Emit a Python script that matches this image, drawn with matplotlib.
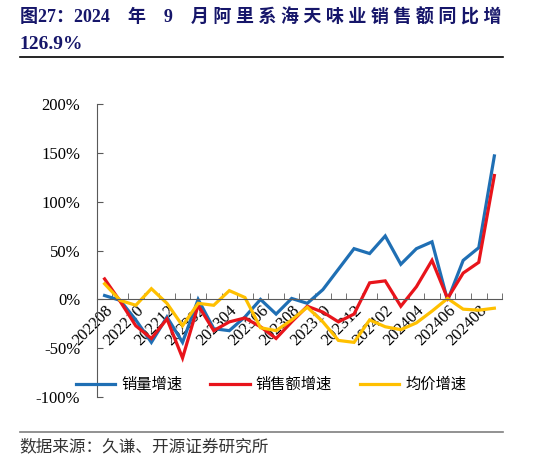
import numpy as np
import matplotlib
matplotlib.use("Agg")
import matplotlib.pyplot as plt
from matplotlib.ticker import FixedLocator, PercentFormatter

plt.rcParams["font.family"] = ["Liberation Serif", "Noto Sans CJK SC"]
plt.rcParams["axes.unicode_minus"] = False

MONTHS = [
    "202208", "202209", "202210", "202211", "202212", "202301", "202302",
    "202303", "202304", "202305", "202306", "202307", "202308", "202309",
    "202310", "202311", "202312", "202401", "202402", "202403", "202404",
    "202405", "202406", "202407", "202408", "202409",
]
VOLUME = [4, -1, -21, -44, -18, -44, 0, -30, -32, -18, 0, -15, 1, -4,
          10, 31, 52, 47, 65, 36, 52, 59, -1, 40, 53, 147]
SALES = [21, -2, -27, -40, -20, -60, -6, -32, -23, -19, -28, -40, -23, -7,
         -13, -23, -15, 17, 19, -7, 13, 40, 1, 27, 38, 126.9]
PRICE = [16, -1, -6, 11, -4, -27, -4, -6, 9, 2, -29, -32, -21, -8,
         -23, -42, -44, -21, -28, -31, -24, -12, 1, -10, -11, -9]
SERIES_NAMES = ["销量增速", "销售额增速", "均价增速"]
COLORS = ["#1F6FB4", "#E8141B", "#FFC000"]
YTICKS = [-100, -50, 0, 50, 100, 150, 200]

TITLE_1 = "图27：2024    年    9    月 阿 里 系 海 天 味 业 销 售 额 同 比 增"
TITLE_2 = "126.9%"
SOURCE = "数据来源：久谦、开源证券研究所"

fig = plt.figure(figsize=(5.5, 4.59), dpi=100)
ax = fig.add_axes([0.176, 0.135, 0.737, 0.638])

x = np.arange(len(MONTHS))
for vals, name, c in zip([VOLUME, SALES, PRICE], SERIES_NAMES, COLORS):
    ax.plot(x, vals, color=c, lw=2.3, label=name, solid_joinstyle="miter")

ax.set_xlim(-0.5, len(MONTHS) - 0.5)
ax.set_ylim(-100, 200)
ax.set_yticks(YTICKS)
ax.yaxis.set_major_formatter(PercentFormatter(decimals=0))
for lab in ax.get_yticklabels():
    lab.set_fontsize(12)

ax.spines["top"].set_visible(False)
ax.spines["right"].set_visible(False)
ax.spines["bottom"].set_position(("data", 0))
ax.spines["bottom"].set_color("#595959")
ax.spines["left"].set_color("#595959")

ax.set_xticks(x[::2])
ax.set_xticklabels(MONTHS[::2], rotation=45, ha="right", va="top",
                   rotation_mode="anchor", fontsize=12)
ax.tick_params(axis="x", which="major", length=0, pad=2)
ax.xaxis.set_minor_locator(FixedLocator(np.arange(-0.5, len(MONTHS), 1)))
ax.tick_params(axis="x", which="minor", direction="in", length=4, color="#595959")
ax.tick_params(axis="y", direction="in", length=4, color="#595959", pad=12)

ax.legend(loc="lower center", bbox_to_anchor=(0.43, -0.033), ncol=3,
          frameon=False, prop={"family": ["Noto Sans CJK SC"], "size": 11},
          handlelength=2.6, columnspacing=1.8, handletextpad=0.4)

fig.text(0.036, 0.963, TITLE_1, fontsize=13, fontweight="bold",
         color="#16166A", va="center", ha="left")
fig.text(0.036, 0.902, TITLE_2, fontsize=14, fontweight="bold",
         color="#16166A", va="center", ha="left")
fig.add_artist(plt.Line2D([0.036, 0.915], [0.876, 0.876], color="black", lw=1.2))
fig.add_artist(plt.Line2D([0.036, 0.915], [0.059, 0.059], color="#7F7F7F", lw=1.2))
fig.text(0.036, 0.026, SOURCE, fontsize=12, color="#333333",
         family=["Noto Sans CJK SC"], va="center", ha="left")

fig.savefig("out.png", dpi=100)
